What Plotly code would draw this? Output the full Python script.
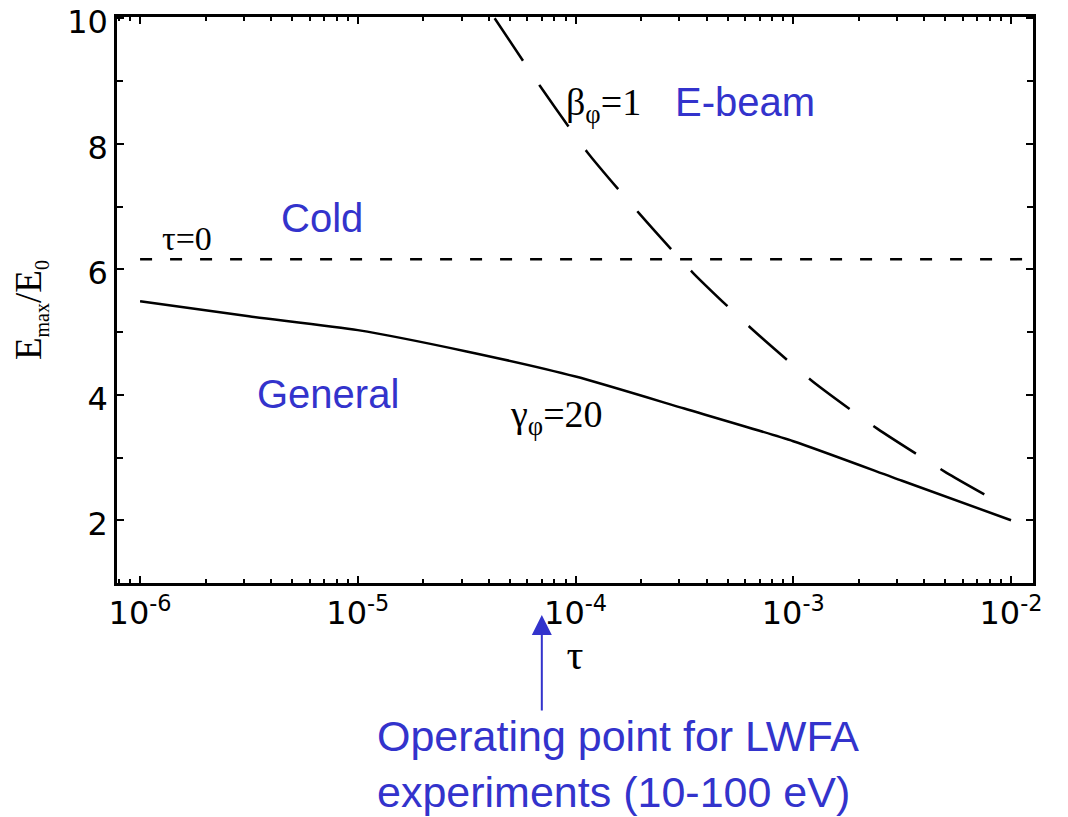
import math
import plotly.graph_objects as go

# ---- data ----
tau_general = [1e-6, 3.16e-6, 1e-5, 3.16e-5, 1e-4, 3.16e-4, 1e-3, 3.16e-3, 1e-2]
e_general = [5.49, 5.25, 5.03, 4.69, 4.29, 3.78, 3.26, 2.63, 2.00]

tau_cold = [1e-6, 1.22e-2]
e_cold = [6.16, 6.16]

tau_beam = [4.25e-5, 6.87e-5, 1.13e-4, 1.96e-4, 3.47e-4, 6.40e-4, 1.22e-3, 2.43e-3, 5.04e-3, 7.93e-3]
e_beam = [10.0, 8.92, 7.87, 6.89, 5.94, 5.06, 4.22, 3.46, 2.76, 2.37]

x_tickvals = [1e-6, 1e-5, 1e-4, 1e-3, 1e-2]
x_ticktext = ["10<sup>-6</sup>", "10<sup>-5</sup>", "10<sup>-4</sup>", "10<sup>-3</sup>", "10<sup>-2</sup>"]
y_tickvals = [2, 4, 6, 8, 10]
y_ticktext = ["2", "4", "6", "8", "10"]
operating_tau = 7e-5

BLUE = "#3333CC"
SERIF = "Liberation Serif"
SANS = "Liberation Sans"

fig = go.Figure()
fig.add_trace(go.Scatter(x=tau_general, y=e_general, mode="lines",
                         line=dict(color="black", width=2.5, shape="spline", smoothing=0.6),
                         showlegend=False))
fig.add_trace(go.Scatter(x=tau_cold, y=e_cold, mode="lines",
                         line=dict(color="black", width=2.5, dash="12px,18px"),
                         showlegend=False))
fig.add_trace(go.Scatter(x=tau_beam, y=e_beam, mode="lines",
                         line=dict(color="black", width=2.5, dash="51px,29px", shape="spline", smoothing=0.6),
                         showlegend=False))

ann = []
def txt(x, y, s, size, color="black", family=SERIF, **kw):
    ann.append(dict(x=x, y=y, text=s, showarrow=False,
                    font=dict(family=family, size=size, color=color), **kw))

txt(math.log10(6.86e-6), 6.81, "Cold", 40, BLUE, SANS)
txt(math.log10(7.3e-6), 4.02, "General", 40, BLUE, SANS)
txt(math.log10(6.0e-4), 8.67, "E-beam", 40, BLUE, SANS)
txt(math.log10(1.64e-6), 6.49, "τ=0", 34)
txt(math.log10(1.35e-4), 8.62, "β<sub>φ</sub>=1", 38)
txt(math.log10(8.2e-5), 3.65, "γ<sub>φ</sub>=20", 38)

# y-axis title
SUB = '<sub><span style="font-size:20px">{}</span></sub>'
ann.append(dict(x=-0.0945, y=0.483, xref="paper", yref="paper", xanchor="center", yanchor="middle",
                textangle=-90, showarrow=False, borderpad=0,
                text="E" + SUB.format("max") + "/E" + SUB.format("0"),
                font=dict(family=SERIF, size=37, color="black")))

ann.append(dict(x=0.2817, y=-0.415, xref="paper", yref="paper", xanchor="left", yanchor="bottom",
                align="left", showarrow=False,
                text="Operating point for LWFA<br>experiments (10-100 eV)",
                font=dict(family=SANS, size=43, color=BLUE)))
ann.append(dict(x=math.log10(operating_tau), y=-0.0565, xref="x", yref="paper", text="",
                showarrow=True, arrowhead=2, arrowsize=2, arrowwidth=2, arrowcolor=BLUE,
                ax=0, ay=97, standoff=0))

axis_common = dict(showline=True, linecolor="black", linewidth=2.5, mirror="ticks",
                   ticks="inside", tickcolor="black", tickwidth=2, showgrid=False, zeroline=False,
                   automargin=False, ticklabeloverflow="allow")

fig.update_layout(
    width=1060, height=809,
    margin=dict(l=109, r=35, t=9, b=234),
    paper_bgcolor="white", plot_bgcolor="white",
    annotations=ann,
    xaxis=dict(type="log", range=[-6.106, -1.899], tickvals=x_tickvals, ticktext=x_ticktext,
               ticklen=7,
               minor=dict(ticks="inside", ticklen=4, tickwidth=2, tickcolor="black", dtick="D1"),
               tickfont=dict(family="DejaVu Sans", size=32, color="black"),
               title=dict(text="τ", font=dict(family=SERIF, size=42, color="black"), standoff=8),
               **axis_common),
    yaxis=dict(range=[1, 10.02], tickvals=y_tickvals, ticktext=y_ticktext, ticklen=7,
               ticklabelshift=4,
               minor=dict(ticks="inside", ticklen=6, tickwidth=2, tickcolor="black", dtick=1),
               tickfont=dict(family="DejaVu Sans", size=32, color="black"),
               **axis_common),
)

fig.write_html("out.html")
